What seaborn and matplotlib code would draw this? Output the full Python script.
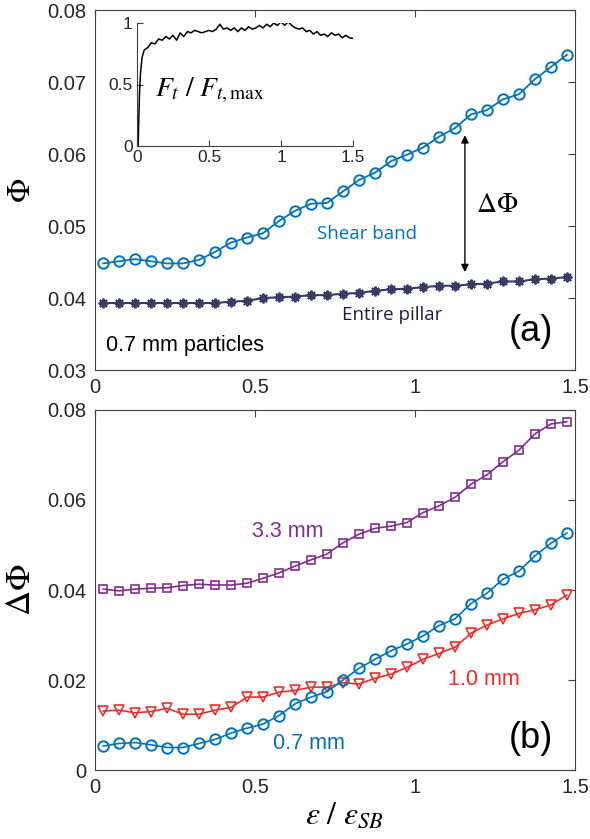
import numpy as np
import pandas as pd
import seaborn as sns
import matplotlib
matplotlib.use("Agg")
import matplotlib.pyplot as plt

sns.set_theme(style="white")
plt.rcParams['font.family'] = ['Liberation Sans', 'DejaVu Sans']
plt.rcParams['mathtext.fontset'] = 'stix'

# ---------------- data ----------------
strain = [0.025, 0.075, 0.125, 0.175, 0.225, 0.275, 0.325, 0.375, 0.425, 0.475,
          0.525, 0.575, 0.625, 0.675, 0.725, 0.775, 0.825, 0.875, 0.925, 0.975,
          1.025, 1.075, 1.125, 1.175, 1.225, 1.275, 1.325, 1.375, 1.425, 1.475]

phi_shear_band = [0.0448, 0.0451, 0.0454, 0.0451, 0.0448, 0.0448, 0.0453, 0.0464, 0.0477, 0.0484,
                  0.0490, 0.0507, 0.0521, 0.0531, 0.0532, 0.0548, 0.0564, 0.0574, 0.0590, 0.0599,
                  0.0609, 0.0624, 0.0636, 0.0655, 0.0661, 0.0676, 0.0683, 0.0704, 0.0721, 0.0738]

phi_entire = [0.0393, 0.0393, 0.0393, 0.0393, 0.0393, 0.0393, 0.0393, 0.0393, 0.0395, 0.0396,
              0.0400, 0.0401, 0.0402, 0.0404, 0.0404, 0.0406, 0.0407, 0.0410, 0.0412, 0.0413,
              0.0415, 0.0417, 0.0417, 0.0419, 0.0420, 0.0423, 0.0423, 0.0426, 0.0427, 0.0429]

dphi_33 = [0.0402, 0.0398, 0.0402, 0.0404, 0.0405, 0.0410, 0.0413, 0.0411, 0.0411, 0.0415,
           0.0426, 0.0438, 0.0453, 0.0467, 0.0480, 0.0505, 0.0524, 0.0537, 0.0542, 0.0550,
           0.0572, 0.0587, 0.0606, 0.0635, 0.0656, 0.0685, 0.0711, 0.0747, 0.0769, 0.0774]

dphi_10 = [0.0131, 0.0133, 0.0127, 0.0130, 0.0137, 0.0124, 0.0124, 0.0133, 0.0139, 0.0162,
           0.0162, 0.0173, 0.0177, 0.0184, 0.0184, 0.0194, 0.0191, 0.0204, 0.0213, 0.0228,
           0.0246, 0.0259, 0.0273, 0.0304, 0.0322, 0.0336, 0.0348, 0.0356, 0.0367, 0.0389]

dphi_07 = [0.0053, 0.0059, 0.0061, 0.0056, 0.0050, 0.0050, 0.0059, 0.0068, 0.0082, 0.0093,
           0.0102, 0.0121, 0.0147, 0.0162, 0.0174, 0.0200, 0.0226, 0.0246, 0.0265, 0.0280,
           0.0298, 0.0321, 0.0336, 0.0370, 0.0393, 0.0424, 0.0442, 0.0476, 0.0504, 0.0527]

inset_x = [0.008, 0.012, 0.018, 0.025, 0.035, 0.05, 0.075, 0.1, 0.125, 0.15,
           0.175, 0.2, 0.225, 0.25, 0.275, 0.3, 0.325, 0.35, 0.375, 0.4,
           0.425, 0.45, 0.475, 0.5, 0.525, 0.55, 0.575, 0.6, 0.625, 0.65,
           0.675, 0.7, 0.725, 0.75, 0.775, 0.8, 0.825, 0.85, 0.875, 0.9,
           0.925, 0.95, 0.975, 1.0, 1.025, 1.05, 1.075, 1.1, 1.125, 1.15,
           1.175, 1.2, 1.225, 1.25, 1.275, 1.3, 1.325, 1.35, 1.375, 1.4,
           1.425, 1.45, 1.475, 1.5]
inset_force = [0.0, 0.2, 0.45, 0.6, 0.72, 0.78, 0.80, 0.84, 0.83, 0.87,
               0.86, 0.89, 0.87, 0.90, 0.86, 0.92, 0.89, 0.93, 0.92, 0.94,
               0.93, 0.92, 0.93, 0.94, 0.93, 0.95, 0.99, 0.95, 0.96, 0.94,
               0.96, 0.93, 0.96, 0.94, 0.97, 0.95, 0.96, 0.98, 0.96, 0.99,
               0.97, 1.00, 0.98, 1.01, 0.98, 1.01, 0.98, 0.96, 0.95, 0.96,
               0.93, 0.94, 0.91, 0.93, 0.90, 0.91, 0.89, 0.92, 0.90, 0.91,
               0.88, 0.90, 0.88, 0.875]

x_ticks = [0, 0.5, 1, 1.5]
x_ticklabels = ["0", "0.5", "1", "1.5"]
top_yticks = [0.03, 0.04, 0.05, 0.06, 0.07, 0.08]
top_yticklabels = ["0.03", "0.04", "0.05", "0.06", "0.07", "0.08"]
bot_yticks = [0, 0.02, 0.04, 0.06, 0.08]
bot_yticklabels = ["0", "0.02", "0.04", "0.06", "0.08"]
inset_xticks = [0, 0.5, 1, 1.5]
inset_xticklabels = ["0", "0.5", "1", "1.5"]
inset_yticks = [0, 0.5, 1]
inset_yticklabels = ["0", "0.5", "1"]

# ---------------- styling ----------------
BLUE = '#0072BD'
NAVY = '#3B3A64'
PURPLE = '#7E2F8E'
RED = '#E8312A'
TICKC = '#262626'
SPINEC = '#404040'
W, H = 590, 839
fig = plt.figure(figsize=(W / 100, H / 100), dpi=100)
fig.patch.set_facecolor('white')

def px_axes(x0, y0, x1, y1):
    return fig.add_axes([x0 / W, 1 - y1 / H, (x1 - x0) / W, (y1 - y0) / H])

def style_main(ax):
    for s in ax.spines.values():
        s.set_color(SPINEC)
        s.set_linewidth(0.8)
        s.set_visible(True)
    ax.tick_params(direction='in', length=5, width=0.8, color=SPINEC,
                   top=True, right=True, labelsize=14.5, labelcolor=TICKC, pad=6)
    ax.set_facecolor('white')
    ax.grid(False)

ax1 = px_axes(95, 10, 575, 370)
ax2 = px_axes(95, 410, 575, 770)

# ---------------- panel (a) ----------------
df_a = pd.DataFrame({'strain': strain, 'sb': phi_shear_band, 'ep': phi_entire})
sns.lineplot(data=df_a, x='strain', y='sb', ax=ax1, color=BLUE, lw=1.3,
             marker='o', markersize=7.5, markerfacecolor='none',
             markeredgecolor=BLUE, markeredgewidth=1.4)
sns.lineplot(data=df_a, x='strain', y='ep', ax=ax1, color=NAVY, lw=1.5,
             marker=(8, 2, 0), markersize=7, markeredgecolor=NAVY,
             markeredgewidth=1.4)
ax1.set_xlim(0, 1.5)
ax1.set_ylim(0.03, 0.08)
ax1.set_xticks(x_ticks)
ax1.set_xticklabels(x_ticklabels)
ax1.set_yticks(top_yticks)
ax1.set_yticklabels(top_yticklabels)
ax1.set_xlabel('')
ax1.set_ylabel(r'$\Phi$', fontsize=23, color='black', labelpad=2)
ax1.yaxis.set_label_coords(-0.12, 0.5)
style_main(ax1)

ax1.annotate('', xy=(1.156, 0.0626), xytext=(1.156, 0.0436),
             arrowprops=dict(arrowstyle='<|-|>', color='black', lw=1.0,
                             mutation_scale=11, shrinkA=0, shrinkB=0))
ax1.text(1.19, 0.0529, r'$\Delta\Phi$', fontsize=20, color='black', va='center', ha='left')
ax1.text(0.694, 0.0489, 'Shear band', fontsize=13.5, color=BLUE, va='center', ha='left',
         family=['Open Sans', 'DejaVu Sans'])
ax1.text(0.772, 0.0376, 'Entire pillar', fontsize=13.5, color='#1E1D4A', va='center', ha='left',
         family=['Open Sans', 'DejaVu Sans'])
ax1.text(1.363, 0.0353, '(a)', fontsize=26, color='black', va='center', ha='center')
ax1.text(0.034, 0.0334, '0.7 mm particles', fontsize=15.5, color='black', va='center', ha='left')

# ---------------- inset ----------------
axi = px_axes(137, 23, 353, 146)
sns.lineplot(x=inset_x, y=inset_force, ax=axi, color='black', lw=1.1, sort=False, estimator=None)
axi.set_xlim(0, 1.5)
axi.set_ylim(0, 1)
axi.set_xticks(inset_xticks)
axi.set_xticklabels(inset_xticklabels)
axi.set_yticks(inset_yticks)
axi.set_yticklabels(inset_yticklabels)
axi.patch.set_alpha(0)
for s in ['top', 'right']:
    axi.spines[s].set_visible(False)
for s in ['left', 'bottom']:
    axi.spines[s].set_color(SPINEC)
    axi.spines[s].set_linewidth(0.8)
axi.tick_params(direction='in', length=4, width=0.8, color=SPINEC, labelsize=12.5,
                labelcolor=TICKC, pad=3, left=True, bottom=True, top=False, right=False)
axi.set_xlabel('')
axi.set_ylabel('')
axi.grid(False)
axi.text(0.125, 0.455, r'$F_t\ /\ F_{t,\mathrm{max}}$', fontsize=20, color='black',
         va='center', ha='left')

# ---------------- panel (b) ----------------
df_b = pd.DataFrame({'strain': strain, 'd33': dphi_33, 'd10': dphi_10, 'd07': dphi_07})
sns.lineplot(data=df_b, x='strain', y='d33', ax=ax2, color=PURPLE, lw=1.2,
             marker='s', markersize=5.5, markerfacecolor='none',
             markeredgecolor=PURPLE, markeredgewidth=1.2)
sns.lineplot(data=df_b, x='strain', y='d10', ax=ax2, color=RED, lw=1.2,
             marker='v', markersize=7.5, markerfacecolor='none',
             markeredgecolor=RED, markeredgewidth=1.2)
sns.lineplot(data=df_b, x='strain', y='d07', ax=ax2, color=BLUE, lw=1.2,
             marker='o', markersize=7.5, markerfacecolor='none',
             markeredgecolor=BLUE, markeredgewidth=1.4)
ax2.set_xlim(0, 1.5)
ax2.set_ylim(0, 0.08)
ax2.set_xticks(x_ticks)
ax2.set_xticklabels(x_ticklabels)
ax2.set_yticks(bot_yticks)
ax2.set_yticklabels(bot_yticklabels)
ax2.set_ylabel(r'$\Delta\Phi$', fontsize=25, color='black')
ax2.yaxis.set_label_coords(-0.12, 0.5)
ax2.set_xlabel(r'$\varepsilon\ /\ \varepsilon_{SB}$', fontsize=23, color='black')
ax2.xaxis.set_label_coords(0.52, -0.085)
style_main(ax2)

ax2.text(0.49, 0.0530, '3.3 mm', fontsize=15.5, color=PURPLE, va='center', ha='left')
ax2.text(1.103, 0.0202, '1.0 mm', fontsize=15.5, color=RED, va='center', ha='left')
ax2.text(0.556, 0.0058, '0.7 mm', fontsize=15.5, color=BLUE, va='center', ha='left')
ax2.text(1.363, 0.0071, '(b)', fontsize=26, color='black', va='center', ha='center')

fig.savefig('out.png', dpi=100, facecolor='white')
